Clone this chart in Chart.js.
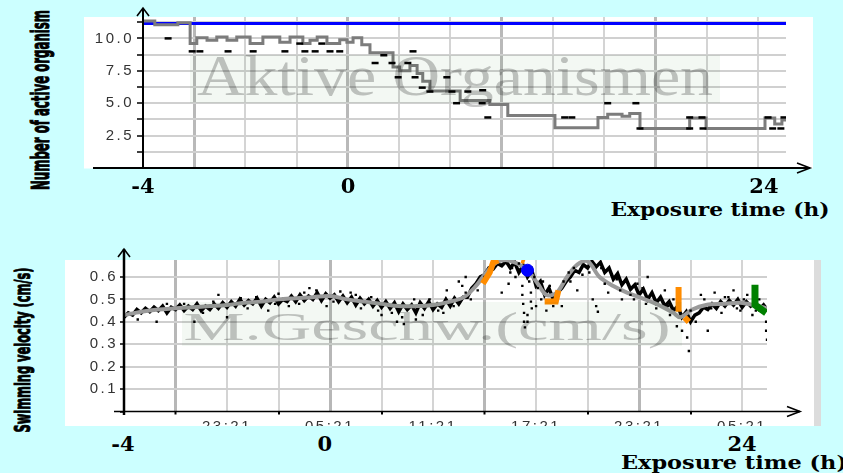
<!DOCTYPE html>
<html><head><meta charset="utf-8">
<script src="https://cdn.jsdelivr.net/npm/chart.js@4.4.1/dist/chart.umd.min.js"></script>
<style>
html,body{margin:0;padding:0;background:#ccffff;width:843px;height:473px;overflow:hidden;position:relative;}
canvas{position:absolute;}
#c1{left:84px;top:5px;}
#c2{left:65px;top:245px;}
.lbl{position:absolute;white-space:nowrap;line-height:1;color:#000;}
.wm{position:absolute;white-space:nowrap;line-height:1;color:#c6c6c6;font-family:"Liberation Serif","Times New Roman",serif;mix-blend-mode:multiply;}
.wmbox{position:absolute;background:rgb(243,248,243);mix-blend-mode:multiply;}
</style></head>
<body>
<canvas id="c1" width="729" height="175"></canvas>
<canvas id="c2" width="756" height="181"></canvas>
<script>
// ================= TOP PANEL: number of active organisms =================
const stepHours  = [-4,-3.77,-3.32,-3.08,-2.95,-2.75,-2.56,-2.36,-2.17,-1.91,-1.66,-1.33,-1.13,-0.88,-0.74,-0.60,-0.41,-0.16,-0.02,0.10,0.27,0.43,0.88,1.01,1.21,1.35,1.46,1.60,2.19,2.77,3.12,4.04,4.88,5.07,5.35,5.50,5.70,6.67,6.99,8.14,8.33,8.47,8.55];
const stepCounts = [11.35,11.05,11.2,9.6,10.05,9.85,10.1,9.85,10.1,9.6,10.1,9.7,10.1,9.6,9.85,10.1,9.6,9.9,9.7,10.05,9.5,8.9,7.8,7.5,7.9,7.3,6.7,5.95,5.2,4.9,4.05,3.1,3.9,4.15,4.0,4.2,3.05,3.85,3.05,3.85,3.4,3.7,3.7];
const controlHours = [-4, 8.55];
const controlCounts = [11.15, 11.15];
const dashHours  = [-3.51,-3.04,-2.89,-2.34,-1.85,-1.23,-0.84,-0.64,-0.35,-0.16,-0.94,-0.51,0.53,0.86,1.17,0.98,1.31,1.93,1.27,1.60,2.03,2.34,2.63,2.12,2.62,2.73,5.07,5.62,4.23,4.37,5.70,6.67,6.91,6.67,6.93,8.20,8.51,8.29,8.45,1.45,0.70];
const dashCounts = [10.0,9.0,9.0,9.0,9.0,9.0,9.0,9.0,9.0,9.0,9.6,9.6,8.1,8.1,8.1,7.0,7.0,7.0,9.0,5.9,5.9,5.9,6.0,5.0,5.0,3.9,5.0,5.0,3.9,3.9,3.05,3.9,3.9,3.05,3.05,3.9,3.9,3.05,3.05,6.2,8.7];
const topGridHours = [-4,-3,-2,-1,0,1,2,3,4,5,6,7,8];
const topDarkHours = [-3,0,3,6];
const countTicks = [0,1.25,2.5,3.75,5,6.25,7.5,8.75,10,11.25];
const countTickLabels = ['','','2.5','','5.0','','7.5','','10.0',''];

// ================= BOTTOM PANEL: swimming velocity =================
const traceStep = 0.25; // h between velocity samples
const velocityTrace = [
0.42,0.44,0.43,0.455,0.44,0.46,0.445,0.465,0.45,0.47,0.44,0.465,0.455,0.475,0.45,0.47,0.455,0.48,0.45,0.47,
0.455,0.48,0.46,0.485,0.465,0.49,0.47,0.50,0.475,0.495,0.48,0.505,0.47,0.50,0.485,0.51,0.48,0.50,0.49,0.515,
0.49,0.52,0.495,0.515,0.50,0.53,0.495,0.525,0.505,0.52,0.49,0.515,0.485,0.51,0.475,0.505,0.48,0.50,0.47,0.495,
0.465,0.49,0.46,0.485,0.445,0.48,0.455,0.475,0.44,0.485,0.46,0.49,0.455,0.48,0.465,0.50,0.47,0.505,0.48,0.51,
0.51,0.55,0.57,0.60,0.61,0.64,0.635,0.66,0.65,0.67,0.64,0.665,0.62,0.65,0.60,0.63,0.56,0.58,0.52,0.55,
0.50,0.53,0.55,0.58,0.60,0.63,0.62,0.655,0.64,0.67,0.645,0.665,0.62,0.64,0.59,0.615,0.565,0.59,0.545,0.565,
0.52,0.545,0.50,0.53,0.485,0.51,0.47,0.49,0.45,0.47,0.42,0.445,0.40,0.43,0.44,0.465,0.455,0.48,0.46,0.49,
0.47,0.495,0.475,0.50,0.465,0.49,0.47,0.485,0.455,0.475,0.45];
const smoothHours = [0,1,2,3,4,5,6,7,8,9,10,11,12,13,14,15,16,17,18,19,19.8,20.5,21.1,21.7,22.3,22.9,23.5,24.1,24.6,25.2,25.8,26.4,27.0,27.7,28.5,29.3,30.0,31.0,32.0,32.4,33.1,33.9,35.0,35.9,36.9,37.45];
const smoothVel   = [0.43,0.445,0.455,0.46,0.465,0.47,0.475,0.485,0.49,0.50,0.505,0.51,0.515,0.50,0.49,0.48,0.47,0.47,0.475,0.49,0.51,0.56,0.62,0.665,0.675,0.66,0.63,0.57,0.52,0.53,0.60,0.655,0.67,0.60,0.56,0.53,0.51,0.48,0.44,0.42,0.455,0.475,0.48,0.485,0.47,0.46];
const dotHours = [0.8,1.9,2.5,3.5,4.1,4.6,5.2,5.5,6.0,6.8,7.2,7.7,8.4,8.8,9.0,9.6,10.2,10.5,10.8,11.2,11.8,12.2,12.6,13.2,13.5,13.8,14.4,14.8,15.0,15.6,15.9,16.2,16.3,16.9,17.0,17.4,17.8,18.3,18.6,18.8,19.2,19.5,19.7,19.9,19.9,
  20.2,20.6,21.0,21.4,22.0,22.4,22.5,22.6,22.8,23.0,23.2,23.2,23.25,23.3,23.3,23.35,23.5,23.5,23.6,23.7,23.7,23.75,23.9,24.0,24.1,24.3,24.4,24.6,24.8,25.0,25.5,25.6,25.9,26.0,26.2,26.4,26.7,27.1,27.3,27.5,27.6,27.8,28.0,28.2,28.4,28.7,28.9,29.0,29.2,29.5,29.7,29.9,30.2,30.4,30.5,30.8,31.0,31.2,31.5,31.7,31.8,32.0,32.2,32.5,32.8,32.9,33.0,33.3,33.6,33.8,34.0,34.2,34.4,34.8,35.0,35.2,35.5,35.7,35.9,36.1,36.3,36.6,36.8,37.0,37.4,37.4,37.45];
const dotVel   = [0.41,0.40,0.48,0.48,0.40,0.44,0.49,0.52,0.42,0.505,0.46,0.51,0.45,0.48,0.525,0.47,0.48,0.53,0.55,0.54,0.47,0.49,0.535,0.53,0.52,0.46,0.51,0.45,0.43,0.44,0.40,0.42,0.39,0.50,0.41,0.43,0.50,0.45,0.44,0.54,0.47,0.58,0.56,0.60,0.53,
  0.50,0.54,0.60,0.63,0.53,0.57,0.62,0.64,0.60,0.66,0.56,0.52,0.48,0.44,0.40,0.375,0.40,0.43,0.58,0.53,0.49,0.46,0.60,0.47,0.55,0.50,0.58,0.45,0.56,0.47,0.47,0.58,0.62,0.58,0.64,0.54,0.61,0.62,0.50,0.47,0.445,0.64,0.57,0.53,0.61,0.59,0.54,0.50,0.58,0.52,0.50,0.57,0.55,0.48,0.60,0.52,0.46,0.50,0.54,0.47,0.43,0.50,0.38,0.36,0.33,0.27,0.45,0.40,0.52,0.50,0.36,0.46,0.53,0.44,0.51,0.51,0.54,0.46,0.45,0.50,0.52,0.43,0.45,0.50,0.40,0.36,0.32];
const orangeHours = [20.9,21.3,21.5,21.8,21.8,23.15,23.35,23.35,24.5,25.15,25.3,25.3,32.3,32.3,32.3,32.65,32.9];
const orangeVel   = [0.57,0.62,0.665,0.675,null,0.675,0.67,null,0.49,0.49,0.54,null,0.555,0.445,null,0.42,0.40];
const greenHours = [36.75,36.75,37.4];
const greenVel   = [0.565,0.475,0.44];
const blueDotHours = [23.5];
const blueDotVel   = [0.63];
const velTicks = [0,0.1,0.2,0.3,0.4,0.5,0.6,0.7];
const velTickLabels = ['','0.1','0.2','0.3','0.4','0.5','0.6','0.7'];
const clockTicks = [3,6,9,12,15,18,21,24,27,30,33,36];
const clockLabels = ['','23:21','','05:21','','11:21','','17:21','','23:21','','05:21'];
const bottomDarkHours = [3,12,21,30];

// ================= overlay annotations =================
const exposureLabels = ['-4','0','24'];
const topExposureAt = [-4, 0, 8.12];
const bottomExposureAt = [-0.06, 11.7, 36.0];

const zip = (xs, ys) => xs.map((x, i) => ({x, y: ys[i]}));
const tickFont = {family: "'Liberation Sans', Arial, sans-serif", size: 15};

function framePlugin(o) {
  return {
    id: 'frame',
    beforeDraw(chart) {
      const ctx = chart.ctx;
      ctx.save();
      ctx.fillStyle = '#ffffff';
      ctx.fillRect(o.px, o.py, o.pw, o.ph);
      if (o.strip) { ctx.fillStyle = '#dcdcdc'; ctx.fillRect(o.pw - 7, o.py, 7, o.ph); }
      ctx.restore();
      try { ctx.letterSpacing = '2.5px'; } catch (e) {}
    },
    afterDraw(chart) {
      const ctx = chart.ctx, a = chart.chartArea;
      ctx.save();
      try { ctx.letterSpacing = '0px'; } catch (e) {}
      if (o.maskTop) { ctx.fillStyle = '#ccffff'; ctx.fillRect(0, 0, chart.width, o.maskTop); }
      ctx.strokeStyle = '#000';
      ctx.lineWidth = o.xw;
      ctx.beginPath(); ctx.moveTo(o.xFrom, a.bottom); ctx.lineTo(o.xTo, a.bottom); ctx.stroke();
      ctx.lineWidth = 1.6;
      ctx.beginPath(); ctx.moveTo(o.xTo - 13, a.bottom - 5); ctx.lineTo(o.xTo, a.bottom); ctx.lineTo(o.xTo - 13, a.bottom + 5); ctx.stroke();
      ctx.lineWidth = o.yw;
      ctx.beginPath(); ctx.moveTo(a.left, o.yBottom); ctx.lineTo(a.left, o.yTop); ctx.stroke();
      ctx.lineWidth = 1.6;
      ctx.beginPath(); ctx.moveTo(a.left - 6, o.yTop + 8); ctx.lineTo(a.left, o.yTop); ctx.lineTo(a.left + 6, o.yTop + 8); ctx.stroke();
      ctx.restore();
    }
  };
}

// ---------- top chart ----------
const chart1 = new Chart(document.getElementById('c1'), {
  type: 'line',
  data: {
    datasets: [
      {data: zip(dashHours, dashCounts), showLine: false, pointStyle: 'line', pointRadius: 3.5, pointBorderWidth: 2.5, pointBorderColor: '#000', borderColor: '#000'},
      {data: zip(stepHours, stepCounts), stepped: true, borderColor: '#7c7c7c', borderWidth: 3, pointRadius: 0, fill: false},
      {data: zip(controlHours, controlCounts), borderColor: '#0000ff', borderWidth: 3, pointRadius: 0, fill: false}
    ]
  },
  options: {
    responsive: false, animation: false, events: [],
    layout: {padding: {top: 12, right: 27, left: 0, bottom: 0}},
    plugins: {legend: {display: false}, tooltip: {enabled: false}},
    scales: {
      x: {
        type: 'linear', min: -4, max: 8.55,
        afterBuildTicks: s => { s.ticks = topGridHours.map(v => ({value: v})); },
        afterFit: s => { s.height = 11.5; },
        ticks: {display: false},
        border: {display: false},
        grid: {
          drawTicks: false,
          color: c => c.tick.value === -4 ? 'rgba(0,0,0,0)' : (topDarkHours.includes(c.tick.value) ? '#b9b9b9' : '#d4d4d4'),
          lineWidth: c => topDarkHours.includes(c.tick.value) ? 3 : 2
        }
      },
      y: {
        type: 'linear', min: 0, max: 11.65,
        afterBuildTicks: s => { s.ticks = countTicks.map(v => ({value: v})); },
        afterFit: s => { s.width = 59; },
        border: {display: false},
        ticks: {font: tickFont, color: '#333', padding: 3, autoSkip: false,
                callback: (v) => countTickLabels[countTicks.indexOf(v)] ?? ''},
        grid: {color: c => c.tick.value === 0 ? 'rgba(0,0,0,0)' : '#d0d0d0', lineWidth: 2,
               tickLength: 6, tickColor: '#000', tickWidth: 1.5}
      }
    }
  },
  plugins: [framePlugin({px: 0, py: 12, pw: 729, ph: 151.5, xFrom: 9, xTo: 726, yTop: 3, yBottom: 163.5, xw: 2, yw: 2})]
});

// ---------- bottom chart ----------
const chart2 = new Chart(document.getElementById('c2'), {
  type: 'line',
  data: {
    datasets: [
      {data: zip(blueDotHours, blueDotVel), showLine: false, pointRadius: 6, pointBackgroundColor: '#0000ff', pointBorderColor: '#0000ff', borderColor: '#0000ff'},
      {data: zip(greenHours, greenVel), borderColor: '#008000', borderWidth: 7, pointRadius: 0, fill: false},
      {data: zip(orangeHours, orangeVel), borderColor: '#ff8c00', borderWidth: 6, pointRadius: 0, fill: false, spanGaps: false},
      {data: zip(dotHours, dotVel), showLine: false, pointStyle: 'rect', pointRadius: 1.7, pointBackgroundColor: '#000', pointBorderColor: '#000', pointBorderWidth: 0, borderColor: '#000'},
      {data: zip(smoothHours, smoothVel), borderColor: '#9a9a9a', borderWidth: 4, pointRadius: 0, tension: 0.35, fill: false},
      {data: velocityTrace.map((v, i) => ({x: i * traceStep, y: v})), borderColor: '#000', borderWidth: 3.5, pointRadius: 0, fill: false}
    ]
  },
  options: {
    responsive: false, animation: false, events: [],
    layout: {padding: {top: 15, right: 54, left: 0, bottom: 0}},
    plugins: {legend: {display: false}, tooltip: {enabled: false}},
    scales: {
      x: {
        type: 'linear', min: 0, max: 37.45,
        afterBuildTicks: s => { s.ticks = clockTicks.map(v => ({value: v})); },
        afterFit: s => { s.height = 14.5; },
        border: {display: false},
        ticks: {font: tickFont, color: '#333', padding: 3, autoSkip: false, maxRotation: 0, minRotation: 0,
                callback: (v) => clockLabels[clockTicks.indexOf(v)] ?? ''},
        grid: {
          color: c => bottomDarkHours.includes(c.tick.value) ? '#b7b7b7' : '#d4d4d4',
          lineWidth: c => bottomDarkHours.includes(c.tick.value) ? 3 : 2,
          tickLength: 3, tickWidth: 2,
          tickColor: c => (clockLabels[clockTicks.indexOf(c.tick.value)] === '' ? '#000' : 'rgba(0,0,0,0)')
        }
      },
      y: {
        type: 'linear', min: 0, max: 0.6756,
        afterBuildTicks: s => { s.ticks = velTicks.map(v => ({value: v})); },
        afterFit: s => { s.width = 59; },
        border: {display: false},
        ticks: {font: tickFont, color: '#333', padding: 2, autoSkip: false,
                callback: (v) => velTickLabels[velTicks.indexOf(v)] ?? ''},
        grid: {color: c => c.tick.value === 0 ? 'rgba(0,0,0,0)' : '#cfcfcf', lineWidth: 2,
               tickLength: 4, tickColor: '#000', tickWidth: 1.5}
      }
    }
  },
  plugins: [framePlugin({px: 0, py: 15, pw: 756, ph: 166, strip: true, maskTop: 15, xFrom: 49, xTo: 735, yTop: 4, yBottom: 170, xw: 1.5, yw: 2.5})]
});

// ================= HTML annotations =================
function addText(cls, text, cx, cy, css, targetW, rotate) {
  const d = document.createElement('div');
  d.className = cls;
  d.textContent = text;
  Object.assign(d.style, css);
  document.body.appendChild(d);
  const w = d.getBoundingClientRect().width;
  const sx = targetW ? targetW / w : 1;
  d.style.left = cx + 'px';
  d.style.top = cy + 'px';
  d.style.transform = 'translate(-50%,-50%)' + (rotate ? ' rotate(-90deg)' : '') + ' scaleX(' + sx + ')';
  return d;
}
function addBox(x, y, w, h) {
  const b = document.createElement('div');
  b.className = 'wmbox';
  Object.assign(b.style, {left: x + 'px', top: y + 'px', width: w + 'px', height: h + 'px'});
  document.body.appendChild(b);
}

// watermarks
addBox(190, 55, 530, 48);
addText('wm', 'Aktive Organismen', 455, 76, {fontSize: '56px'}, 516);
addBox(182, 302, 500, 44);
addText('wm', 'M.Geschw.(cm/s)', 427, 326, {fontSize: '39px'}, 487);

// exposure-time labels placed through the charts' own x scales
const bigFont = {fontFamily: "'DejaVu Serif', serif", fontWeight: 'bold', fontSize: '21px'};
exposureLabels.forEach((t, i) => {
  addText('lbl', t, 84 + chart1.scales.x.getPixelForValue(topExposureAt[i]), 185, bigFont);
  addText('lbl', t, 65 + chart2.scales.x.getPixelForValue(bottomExposureAt[i]), 443, bigFont);
});
const titleFont = {fontFamily: "'DejaVu Serif', serif", fontWeight: 'bold', fontSize: '19px'};
addText('lbl', 'Exposure time (h)', 720, 209, titleFont, 219);
addText('lbl', 'Exposure time (h)', 734, 462, titleFont, 226);

// rotated y-axis titles
const yTitleFont = {fontFamily: "'Liberation Sans Narrow','DejaVu Sans Condensed','Liberation Sans',sans-serif", fontWeight: '900', fontSize: '24px', webkitTextStroke: '1px #000'};
addText('lbl', 'Number of active organism', 41, 100, yTitleFont, 180, true);
addText('lbl', 'Swimming velocity (cm/s)', 23, 350, Object.assign({}, yTitleFont, {fontSize: '22px'}), 165, true);
</script>
</body></html>
